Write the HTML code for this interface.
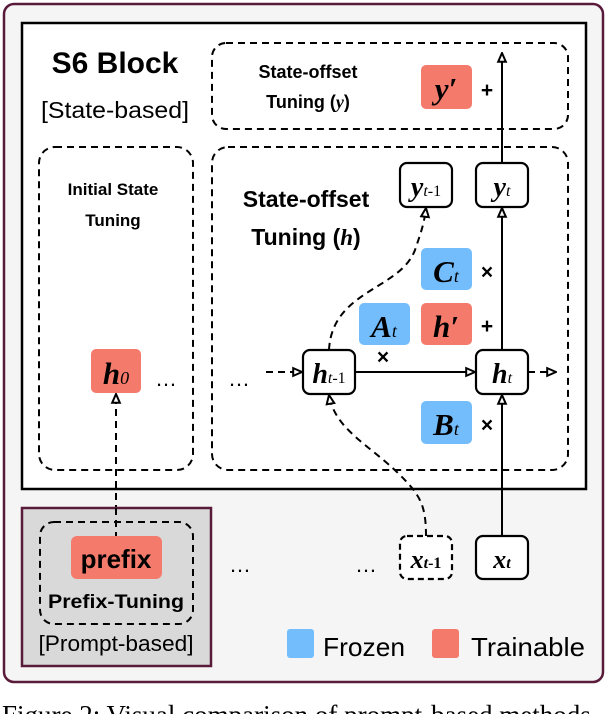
<!DOCTYPE html>
<html><head><meta charset="utf-8"><style>
body{margin:0;background:#fff}
svg{display:block}
.b{font-family:"Liberation Sans",sans-serif;font-weight:bold}
.s{font-family:"Liberation Sans",sans-serif}
.m{font-family:"Liberation Serif",serif;font-style:italic;font-weight:bold}
</style></head><body>
<svg width="606" height="714" viewBox="0 0 606 714" xmlns="http://www.w3.org/2000/svg">
<defs>
<marker id="ar" viewBox="0 0 10 10" refX="9" refY="5" markerWidth="11" markerHeight="11" markerUnits="userSpaceOnUse" orient="auto">
<path d="M1,1.5 L9,5 L1,8.5 Z" fill="#fff" stroke="#000" stroke-width="1.8"/></marker>
</defs>
<rect x="4" y="4" width="599" height="678" rx="10" fill="#f5f5f5" stroke="#5a1a3a" stroke-width="2.5"/>
<rect x="22" y="23" width="564" height="466" fill="#fff" stroke="#000" stroke-width="2.5"/>
<g fill="none" stroke="#000" stroke-width="2" stroke-dasharray="7,5">
<rect x="212" y="43" width="356" height="86" rx="14"/>
<rect x="39" y="147" width="154" height="323" rx="16"/>
<rect x="212" y="147" width="356" height="323" rx="16"/>
</g>
<text x="115" y="73" class="b" font-size="30" text-anchor="middle">S6 Block</text>
<text x="115" y="118" class="s" font-size="23" text-anchor="middle" textLength="148" lengthAdjust="spacingAndGlyphs">[State-based]</text>
<text x="308" y="78" class="b" font-size="18" text-anchor="middle">State-offset</text>
<text x="308" y="108" class="b" font-size="18" text-anchor="middle">Tuning (<tspan class="m">y</tspan>)</text>
<text x="113" y="195" class="b" font-size="17" text-anchor="middle">Initial State</text>
<text x="113" y="226" class="b" font-size="17" text-anchor="middle">Tuning</text>
<text x="306" y="207" class="b" font-size="23" text-anchor="middle">State-offset</text>
<text x="306" y="245" class="b" font-size="23" text-anchor="middle">Tuning (<tspan class="m">h</tspan>)</text>
<g>
<rect x="421" y="65" width="51" height="44" rx="5" fill="#f47a6b"/>
<text x="446" y="99" class="m" font-size="31" text-anchor="middle">y′</text>
<rect x="421" y="248" width="51" height="42" rx="5" fill="#74bdfc"/>
<text x="446" y="282" class="m" font-size="31" text-anchor="middle">C<tspan font-size="18" font-weight="normal">t</tspan></text>
<rect x="359" y="303" width="51" height="42" rx="5" fill="#74bdfc"/>
<text x="384" y="337" class="m" font-size="31" text-anchor="middle">A<tspan font-size="18" font-weight="normal">t</tspan></text>
<rect x="421" y="303" width="51" height="42" rx="5" fill="#f47a6b"/>
<text x="446" y="337" class="m" font-size="31" text-anchor="middle">h′</text>
<rect x="421" y="401" width="51" height="43" rx="5" fill="#74bdfc"/>
<text x="446" y="435" class="m" font-size="31" text-anchor="middle">B<tspan font-size="18" font-weight="normal">t</tspan></text>
<rect x="91" y="349" width="50" height="44" rx="5" fill="#f47a6b"/>
<text x="116" y="384" class="m" font-size="31" text-anchor="middle">h<tspan font-size="18" font-weight="normal">0</tspan></text>
</g>
<g class="b" font-size="21" text-anchor="middle">
<text x="487" y="97">+</text><text x="487" y="279">×</text><text x="487" y="333">+</text><text x="487" y="432">×</text><text x="383" y="364">×</text>
</g>
<g fill="none" stroke="#000" stroke-width="2">
<line x1="502" y1="163" x2="502" y2="53" marker-end="url(#ar)"/>
<line x1="502" y1="350" x2="502" y2="208" marker-end="url(#ar)"/>
<line x1="502" y1="536" x2="502" y2="395" marker-end="url(#ar)"/>
<line x1="355" y1="372" x2="475" y2="372" marker-end="url(#ar)"/>
</g>
<g fill="none" stroke="#000" stroke-width="2" stroke-dasharray="7,5">
<line x1="266" y1="372" x2="302" y2="372" marker-end="url(#ar)"/>
<line x1="528" y1="372" x2="556" y2="372" marker-end="url(#ar)"/>
<path d="M329,350 C332,290 400,290 415,250 C420,235 424,225 426,208" marker-end="url(#ar)"/>
<path d="M426,536 C426,505 420,495 400,475 C370,445 335,430 329,395" marker-end="url(#ar)"/>
<line x1="116" y1="536" x2="116" y2="394" marker-end="url(#ar)"/>
</g>
<g fill="#fff" stroke="#000" stroke-width="2.2">
<rect x="400" y="163" width="52" height="44" rx="7"/>
<rect x="476" y="163" width="52" height="44" rx="7"/>
<rect x="303" y="350" width="52" height="44" rx="7"/>
<rect x="476" y="350" width="52" height="44" rx="7"/>
<rect x="476" y="536" width="52" height="43" rx="7"/>
<rect x="400" y="536" width="52" height="43" rx="7" stroke-dasharray="6,4"/>
</g>
<text x="426" y="196" class="m" font-size="28" text-anchor="middle">y<tspan font-size="16" font-weight="normal">t</tspan><tspan font-size="16" font-weight="normal" font-style="normal">-1</tspan></text>
<text x="502" y="196" class="m" font-size="28" text-anchor="middle">y<tspan font-size="16" font-weight="normal">t</tspan></text>
<text x="329" y="383" class="m" font-size="28" text-anchor="middle">h<tspan font-size="16" font-weight="normal">t</tspan><tspan font-size="16" font-weight="normal" font-style="normal">-1</tspan></text>
<text x="502" y="383" class="m" font-size="28" text-anchor="middle">h<tspan font-size="16" font-weight="normal">t</tspan></text>
<text x="426" y="568" class="m" font-size="26" text-anchor="middle" font-weight="normal">x<tspan font-size="16">t</tspan><tspan font-size="16" font-style="normal">-1</tspan></text>
<text x="502" y="568" class="m" font-size="26" text-anchor="middle" font-weight="normal">x<tspan font-size="16">t</tspan></text>
<g class="s" font-size="22" text-anchor="middle">
<text x="166" y="386">…</text><text x="239" y="386">…</text><text x="240" y="572">…</text><text x="366" y="572">…</text>
</g>
<rect x="22" y="508" width="189" height="158" fill="#d9d9d9" stroke="#5a1a3a" stroke-width="2.5"/>
<rect x="40" y="522" width="153" height="102" rx="14" fill="none" stroke="#000" stroke-width="2" stroke-dasharray="7,5"/>
<line x1="116" y1="508" x2="116" y2="536" stroke="#000" stroke-width="2" stroke-dasharray="7,5"/>
<rect x="71" y="536" width="91" height="43" rx="6" fill="#f47a6b"/>
<text x="116" y="568" class="b" font-size="26" text-anchor="middle">prefix</text>
<text x="116" y="608" class="b" font-size="19" text-anchor="middle" textLength="136" lengthAdjust="spacingAndGlyphs">Prefix-Tuning</text>
<text x="116" y="651" class="s" font-size="22" text-anchor="middle" textLength="155" lengthAdjust="spacingAndGlyphs">[Prompt-based]</text>
<rect x="287" y="629" width="27" height="29" rx="3" fill="#74bdfc"/>
<text x="323" y="656" class="s" font-size="26" textLength="82" lengthAdjust="spacingAndGlyphs">Frozen</text>
<rect x="432" y="629" width="27" height="29" rx="3" fill="#f47a6b"/>
<text x="471" y="656" class="s" font-size="26" textLength="114" lengthAdjust="spacingAndGlyphs">Trainable</text>
<text x="2" y="724" font-family="Liberation Serif,serif" font-size="27">Figure 2: Visual comparison of prompt-based methods</text>
</svg>
</body></html>
